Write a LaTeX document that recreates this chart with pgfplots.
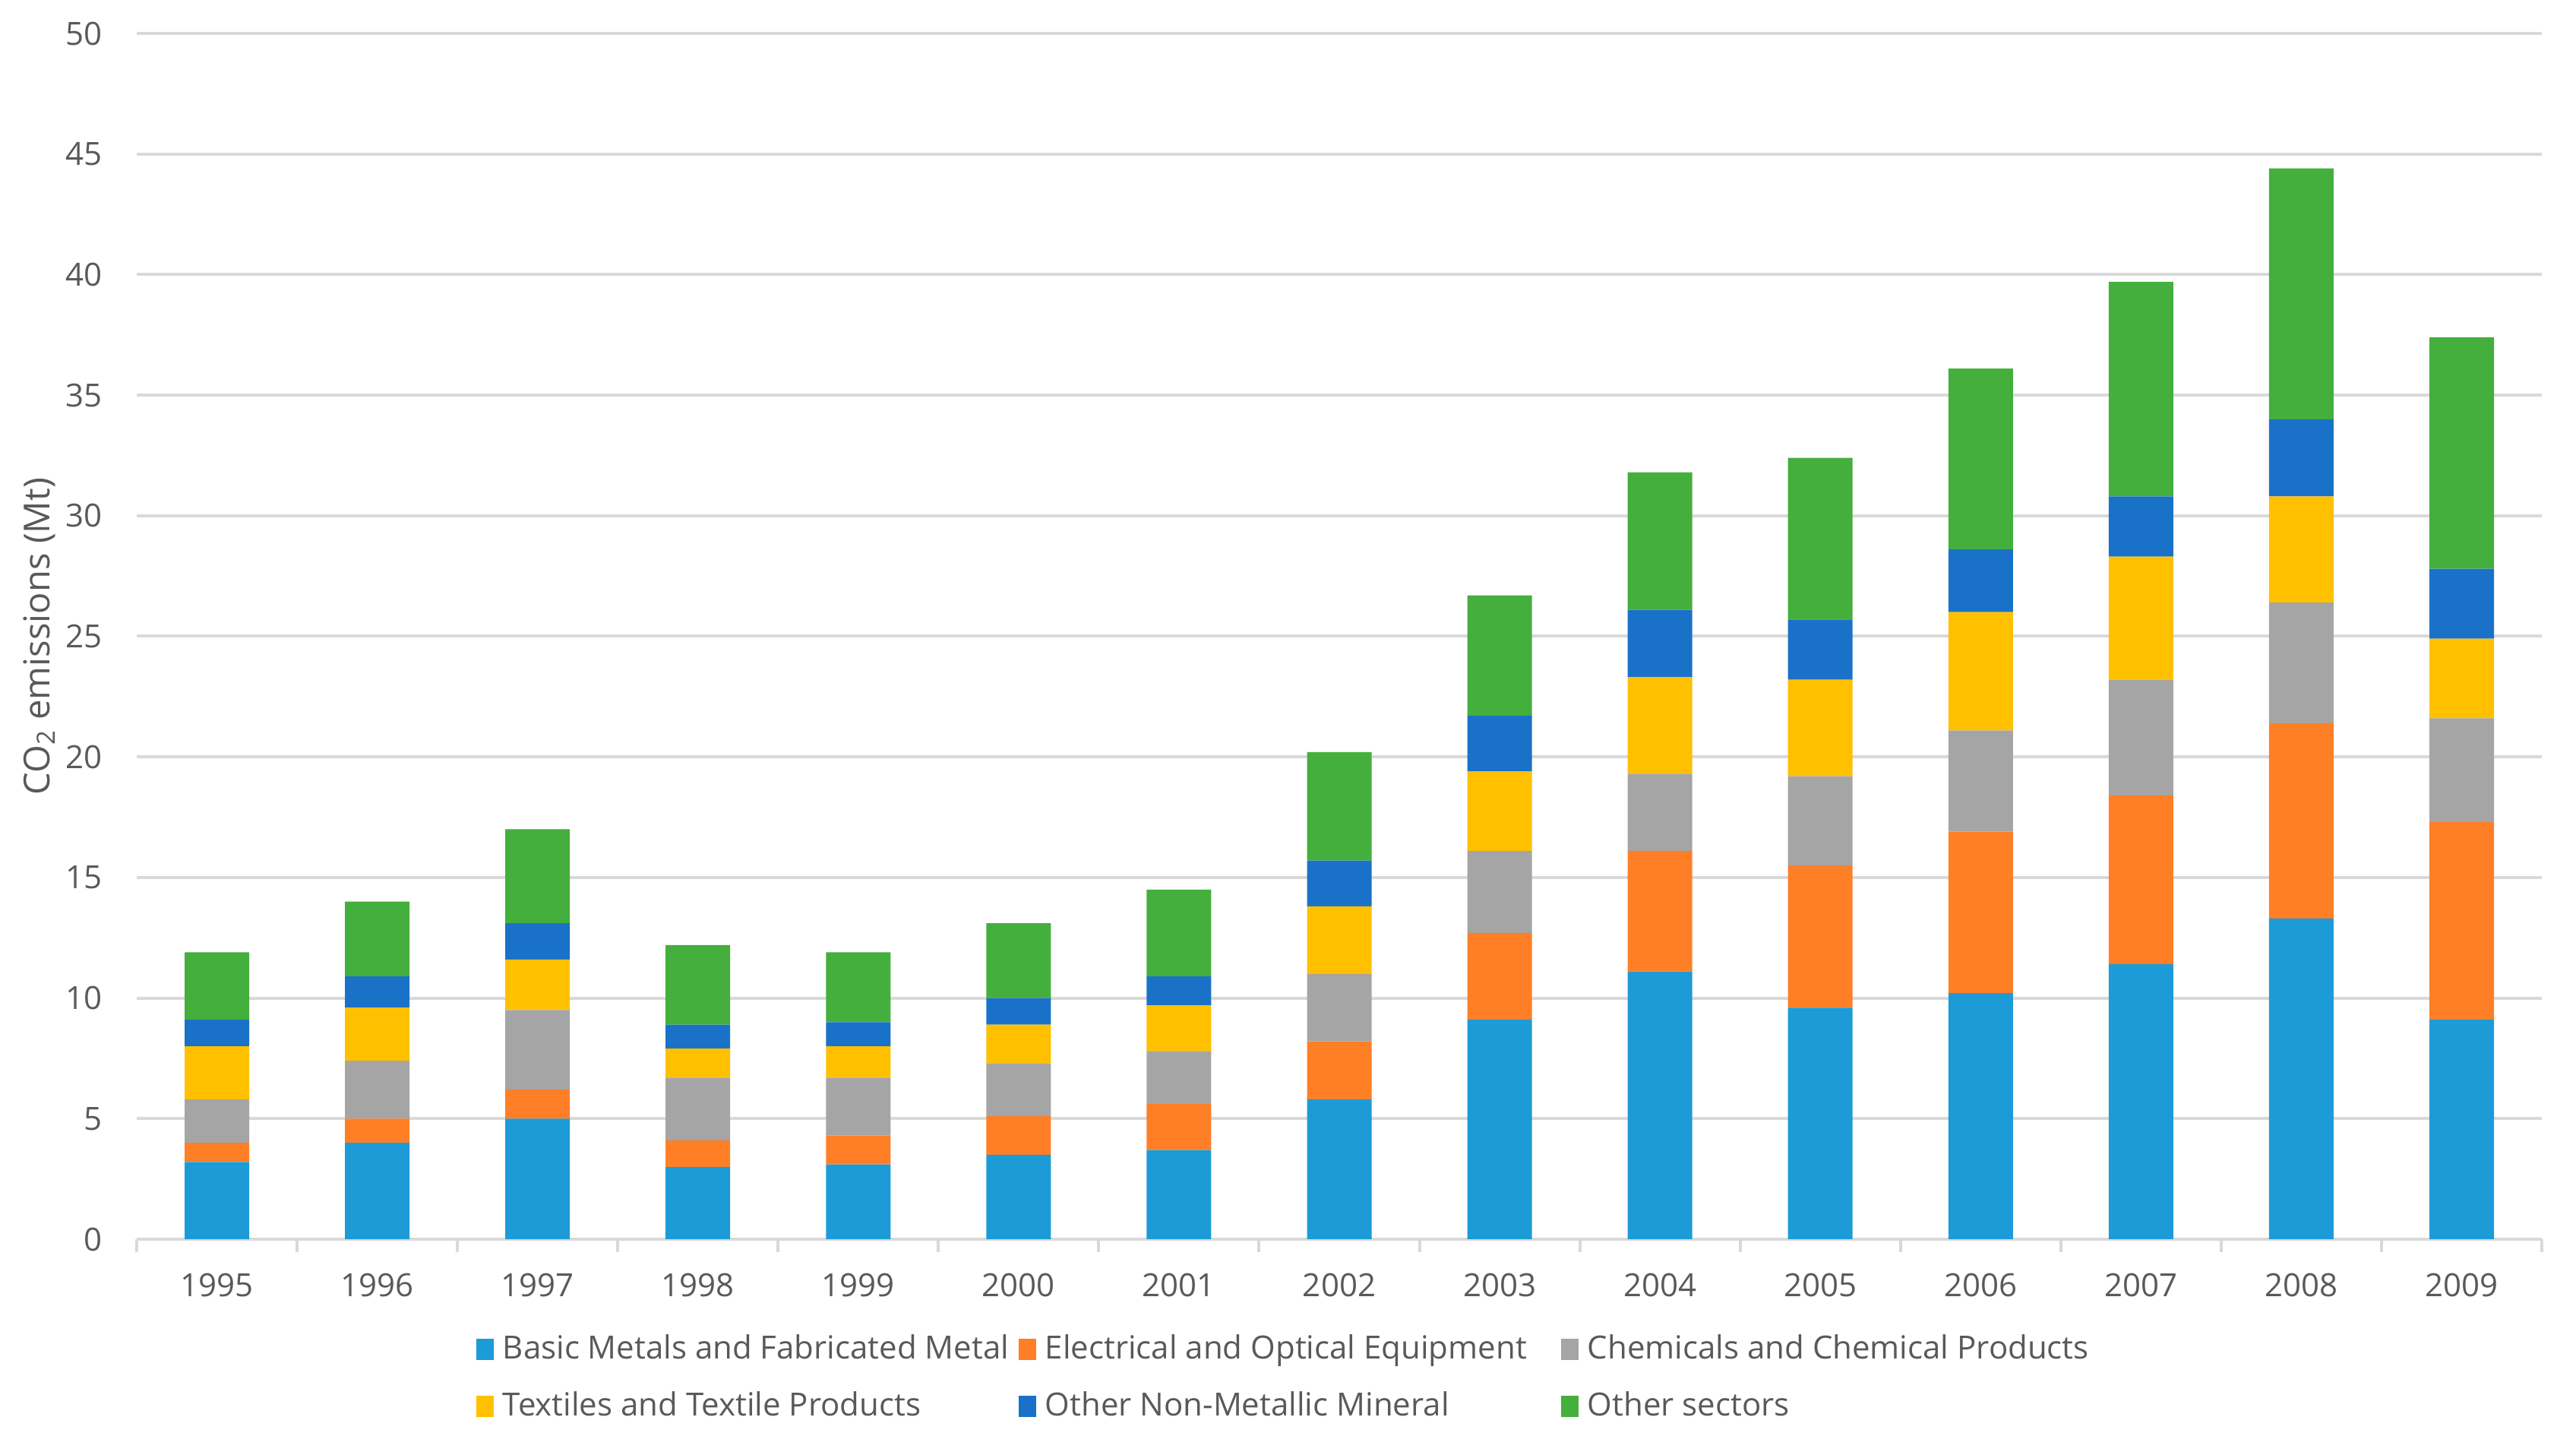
\documentclass[border=0pt]{standalone}
\usepackage{fontspec}
\setmainfont{Open Sans}
\usepackage{pgfplots}
\usepackage{pgfplotstable}
\pgfplotsset{compat=1.18}

\definecolor{cBasic}{HTML}{1D9BD7}
\definecolor{cElec}{HTML}{FF7F27}
\definecolor{cChem}{HTML}{A5A5A5}
\definecolor{cText}{HTML}{FFC000}
\definecolor{cMin}{HTML}{1A72C8}
\definecolor{cOther}{HTML}{44AF3C}
\definecolor{textgray}{HTML}{595959}
\definecolor{gridgray}{HTML}{D9D9D9}

% CO2 emissions (Mt) by sector, 1995-2009 (idx 0 = 1995)
\pgfplotstableread{
idx basic elec chem text nonmet other
0   3.2   0.8  1.8  2.2  1.1    2.8
1   4.0   1.0  2.4  2.2  1.3    3.1
2   5.0   1.2  3.3  2.1  1.5    3.9
3   3.0   1.1  2.6  1.2  1.0    3.3
4   3.1   1.2  2.4  1.3  1.0    2.9
5   3.5   1.6  2.2  1.6  1.1    3.1
6   3.7   1.9  2.2  1.9  1.2    3.6
7   5.8   2.4  2.8  2.8  1.9    4.5
8   9.1   3.6  3.4  3.3  2.3    5.0
9   11.1  5.0  3.2  4.0  2.8    5.7
10  9.6   5.9  3.7  4.0  2.5    6.7
11  10.2  6.7  4.2  4.9  2.6    7.5
12  11.4  7.0  4.8  5.1  2.5    8.9
13  13.3  8.1  5.0  4.4  3.2    10.4
14  9.1   8.2  4.3  3.3  2.9    9.6
}\emissions

\pgfplotsset{sqlegend/.style={legend image code/.code={\fill[##1] (0pt,-3.5pt) rectangle (5.9pt,3.5pt);}}}
\newcommand{\lw}[1]{\makebox[169.75pt][l]{#1}}
\newcommand{\chartfont}{\fontsize{10.5}{12.5}\selectfont}

\begin{document}
\begin{tikzpicture}
\begin{axis}[name=ax,
    scale only axis, width=791.5pt, height=396.75pt,
    ybar stacked, bar width=21.25pt,
    xmin=-0.5, xmax=14.5, ymin=0, ymax=50,
    xtick={0,...,14},
    xticklabels={1995,1996,1997,1998,1999,2000,2001,2002,2003,2004,2005,2006,2007,2008,2009},
    minor xtick={-0.5,0.5,...,14.5},
    ytick={0,5,...,50},
    tick align=outside,
    major tick length=0pt, minor tick length=4.3pt,
    minor tick style={draw=gridgray, line width=1pt},
    axis x line*=bottom, axis y line*=left,
    x axis line style={draw=gridgray, line width=1pt},
    y axis line style={draw=none},
    ytick style={draw=none},
    ymajorgrids, grid style={draw=gridgray, line width=1pt},
    /pgf/number format/assume math mode=true,
    tick label style={font=\chartfont, text=textgray},
    yticklabel style={xshift=-7.9pt},
    xticklabel style={yshift=-7.8pt},
    ylabel={CO\textsubscript{2} emissions (Mt)},
    ylabel style={at={(axis description cs:-0.0405,0.5)}, anchor=center,
        font=\fontsize{11.8}{14}\selectfont, text=textgray},
    legend columns=3,
    legend style={at={(0,0)}, anchor=north west, xshift=111.5pt, yshift=-26.625pt,
        draw=none, fill=none, inner sep=0pt, row sep=0pt,
        font=\chartfont, text=textgray,
        nodes={inner sep=0pt, minimum height=18.75pt, anchor=west},
        /tikz/every odd column/.append style={column sep=2.85pt},
        /tikz/every even column/.append style={column sep=0pt}},
    legend cell align=left,
]
\addplot[fill=cBasic, draw=none, sqlegend] table[x=idx, y=basic] {\emissions};
\addlegendentry{\lw{Basic Metals and Fabricated Metal}}
\addplot[fill=cElec, draw=none, sqlegend] table[x=idx, y=elec] {\emissions};
\addlegendentry{\lw{Electrical and Optical Equipment}}
\addplot[fill=cChem, draw=none, sqlegend] table[x=idx, y=chem] {\emissions};
\addlegendentry{Chemicals and Chemical Products}
\addplot[fill=cText, draw=none, sqlegend] table[x=idx, y=text] {\emissions};
\addlegendentry{\lw{Textiles and Textile Products}}
\addplot[fill=cMin, draw=none, sqlegend] table[x=idx, y=nonmet] {\emissions};
\addlegendentry{\lw{Other Non-Metallic Mineral}}
\addplot[fill=cOther, draw=none, sqlegend] table[x=idx, y=other] {\emissions};
\addlegendentry{Other sectors}
\end{axis}
\pgfresetboundingbox
\path ([xshift=-45pt,yshift=-64.75pt]ax.south west) rectangle ([xshift=11.25pt,yshift=11pt]ax.north east);
\end{tikzpicture}
\end{document}
